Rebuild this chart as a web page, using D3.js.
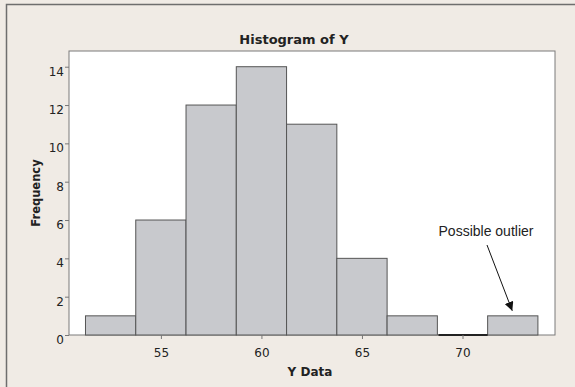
<!DOCTYPE html>
<html>
<head>
<meta charset="utf-8">
<script src="https://cdn.jsdelivr.net/npm/d3@7"></script>
<style>
  body { margin: 0; background: #f0ebe5; }
  svg { display: block; }
</style>
</head>
<body>
<svg width="575" height="387"></svg>
<script>
// bin edges (Y Data) and counts
var binEdges = [51.25, 53.75, 56.25, 58.75, 61.25, 63.75, 66.25, 68.75, 71.25, 73.75];
var counts = [1, 6, 12, 14, 11, 4, 1, 0, 1];
var xTicks = [55, 60, 65, 70];
var yTicks = [0, 2, 4, 6, 8, 10, 12, 14];

var svg = d3.select("svg");
var plot = {left: 69, top: 51, right: 555, bottom: 335};

// outer frame: only left and top edges visible
svg.append("rect").attr("width", 575).attr("height", 387).attr("fill", "#f0ebe5");
svg.append("path")
  .attr("d", "M6.5,387V4.5H575")
  .attr("fill", "none").attr("stroke", "#6e6e6e").attr("stroke-width", 1.5);

var x = d3.scaleLinear().domain([50.43, 74.6]).range([plot.left, plot.right]);
var y = d3.scaleLinear().domain([0, 14.82]).range([plot.bottom, plot.top]);

svg.append("rect")
  .attr("x", plot.left).attr("y", plot.top)
  .attr("width", plot.right - plot.left).attr("height", plot.bottom - plot.top)
  .attr("fill", "#fff").attr("stroke", "#7a7a7a").attr("stroke-width", 1);

var bins = counts.map(function(c, i) { return {x0: binEdges[i], x1: binEdges[i + 1], n: c}; });

svg.selectAll("rect.bar")
  .data(bins.filter(function(d) { return d.n > 0; }))
  .enter().append("rect")
    .attr("class", "bar")
    .attr("x", function(d) { return x(d.x0); })
    .attr("y", function(d) { return y(d.n); })
    .attr("width", function(d) { return x(d.x1) - x(d.x0); })
    .attr("height", function(d) { return y(0) - y(d.n); })
    .attr("fill", "#c8c9cd")
    .attr("stroke", "#555").attr("stroke-width", 1);

// empty bin drawn as a dark line on the baseline
svg.selectAll("line.empty")
  .data(bins.filter(function(d) { return d.n === 0; }))
  .enter().append("line")
    .attr("x1", function(d) { return x(d.x0) + 1; })
    .attr("x2", function(d) { return x(d.x1); })
    .attr("y1", y(0)).attr("y2", y(0))
    .attr("stroke", "#222").attr("stroke-width", 2);

var xAxis = svg.append("g")
  .attr("transform", "translate(0," + plot.bottom + ")")
  .call(d3.axisBottom(x).tickValues(xTicks).tickSize(4).tickPadding(9).tickFormat(d3.format("d")));
var yAxis = svg.append("g")
  .attr("transform", "translate(" + plot.left + ",0)")
  .call(d3.axisLeft(y).tickValues(yTicks).tickSize(4).tickPadding(1).tickFormat(d3.format("d")));

[xAxis, yAxis].forEach(function(a) {
  a.select(".domain").remove();
  a.selectAll("line").attr("stroke", "#777");
  a.selectAll("text").attr("fill", "#222")
    .style("font-family", "'DejaVu Sans', Verdana, sans-serif").style("font-size", "12px");
});
yAxis.selectAll("text").attr("dy", "0.7em");

svg.append("text")
  .attr("x", 294).attr("y", 44)
  .attr("text-anchor", "middle")
  .style("font-family", "'DejaVu Sans', Tahoma, sans-serif").style("font-size", "13px").style("font-weight", "bold")
  .attr("fill", "#222")
  .text("Histogram of Y");

svg.append("text")
  .attr("x", 310).attr("y", 376)
  .attr("text-anchor", "middle")
  .style("font-family", "'DejaVu Sans', Tahoma, sans-serif").style("font-size", "12px").style("font-weight", "bold")
  .attr("fill", "#222")
  .text("Y Data");

svg.append("text")
  .attr("transform", "translate(40," + ((plot.top + plot.bottom) / 2) + ") rotate(-90)")
  .attr("text-anchor", "middle")
  .style("font-family", "'DejaVu Sans', Tahoma, sans-serif").style("font-size", "11.5px").style("font-weight", "bold")
  .attr("fill", "#222")
  .text("Frequency");

// annotation
svg.append("defs").append("marker")
  .attr("id", "head").attr("viewBox", "0 0 10 10")
  .attr("refX", 10).attr("refY", 5)
  .attr("markerWidth", 9).attr("markerHeight", 9)
  .attr("markerUnits", "userSpaceOnUse")
  .attr("orient", "auto")
  .append("path").attr("d", "M0,0L10,5L0,10z").attr("fill", "#111");

svg.append("text")
  .attr("x", 486).attr("y", 236)
  .attr("text-anchor", "middle")
  .style("font-family", "'Liberation Sans', Arial, sans-serif").style("font-size", "14px")
  .attr("fill", "#222")
  .text("Possible outlier");

svg.append("line")
  .attr("x1", 487).attr("y1", 245)
  .attr("x2", x(72.5) - 0.5).attr("y2", y(1) - 5)
  .attr("stroke", "#111").attr("stroke-width", 1)
  .attr("marker-end", "url(#head)");
</script>
</body>
</html>
